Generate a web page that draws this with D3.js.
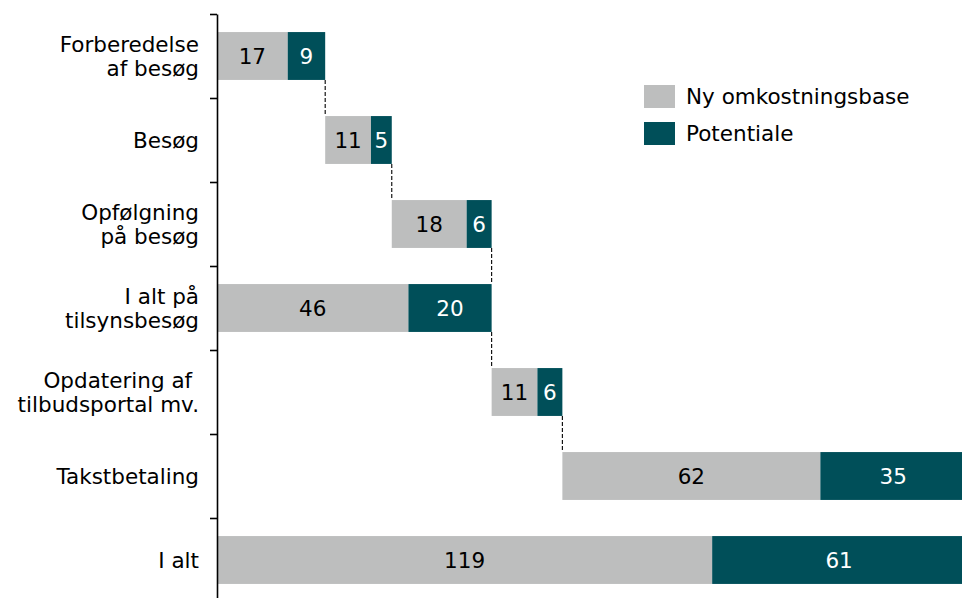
<!DOCTYPE html>
<html>
<head>
<meta charset="utf-8">
<script src="https://cdn.jsdelivr.net/npm/d3@7"></script>
<style>
  html, body { margin: 0; padding: 0; background: #fff; }
  svg { display: block; font-family: "DejaVu Sans", Verdana, sans-serif; }
  .cat { white-space: pre; }
</style>
</head>
<body>
<svg id="chart" width="962" height="598"></svg>
<script>
// Category labels (line breaks as drawn)
const categories = [
  ["Forberedelse", "af besøg"],
  ["Besøg"],
  ["Opfølgning", "på besøg"],
  ["I alt på", "tilsynsbesøg"],
  ["Opdatering af ", "tilbudsportal mv."],
  ["Takstbetaling"],
  ["I alt"]
];
// Series values
const baseValues = [17, 11, 18, 46, 11, 62, 119];      // Ny omkostningsbase
const potentialValues = [9, 5, 6, 20, 6, 35, 61];       // Potentiale
// Where each bar starts on the value axis (waterfall offsets)
const offsets = [0, 26, 42, 0, 66, 83, 0];
const seriesNames = ["Ny omkostningsbase", "Potentiale"];

const colors = { base: "#BDBEBE", potential: "#004F59" };
const fontSize = 21.5;

const svg = d3.select("#chart");
const axisX = 217;

const x = d3.scaleLinear().domain([0, 180]).range([axisX, 966]);
const keys = categories.map((d, i) => i);
const y = d3.scaleBand().domain(keys).range([14, 602])
  .paddingInner(0.43).paddingOuter(0.215);
const edge = d3.scaleLinear().domain([0, categories.length]).range([14, 602]);

// connector lines between consecutive bars
const ends = keys.map(i => offsets[i] + baseValues[i] + potentialValues[i]);
for (let i = 0; i < keys.length - 1; i++) {
  if (i === 5) continue;
  const xv = ends[i];
  svg.append("line")
    .attr("x1", x(xv)).attr("x2", x(xv))
    .attr("y1", y(i) + y.bandwidth()).attr("y2", y(i + 1))
    .attr("stroke", "#000").attr("stroke-width", 1.1)
    .attr("stroke-dasharray", "4,2");
}

// bars
const rows = svg.append("g").selectAll("g").data(keys).join("g");
rows.append("rect")
  .attr("x", i => x(offsets[i]))
  .attr("y", i => y(i))
  .attr("width", i => x(offsets[i] + baseValues[i]) - x(offsets[i]))
  .attr("height", y.bandwidth())
  .attr("fill", colors.base);
rows.append("rect")
  .attr("x", i => x(offsets[i] + baseValues[i]))
  .attr("y", i => y(i))
  .attr("width", i => x(offsets[i] + baseValues[i] + potentialValues[i]) - x(offsets[i] + baseValues[i]))
  .attr("height", y.bandwidth())
  .attr("fill", colors.potential);

// value labels
rows.append("text")
  .attr("x", i => x(offsets[i] + baseValues[i] / 2))
  .attr("y", i => y(i) + y.bandwidth() / 2)
  .attr("dy", "0.36em")
  .attr("text-anchor", "middle")
  .attr("font-size", fontSize)
  .attr("fill", "#000")
  .text(i => baseValues[i]);
rows.append("text")
  .attr("x", i => x(offsets[i] + baseValues[i] + potentialValues[i] / 2))
  .attr("y", i => y(i) + y.bandwidth() / 2)
  .attr("dy", "0.36em")
  .attr("text-anchor", "middle")
  .attr("font-size", fontSize)
  .attr("fill", "#fff")
  .text(i => potentialValues[i]);

// vertical axis with ticks at category boundaries
const axis = d3.axisLeft(edge)
  .tickValues(d3.range(categories.length + 1))
  .tickFormat("")
  .tickSizeInner(7)
  .tickSizeOuter(0);
const ag = svg.append("g").attr("transform", `translate(${axisX},0)`).call(axis);
ag.select(".domain").attr("stroke", "#000").attr("stroke-width", 1.6);
ag.selectAll(".tick line").attr("stroke", "#000").attr("stroke-width", 1.6);

// category labels
const lineH = 24.5;
svg.append("g").selectAll("text").data(keys).join("text")
  .attr("class", "cat")
  .attr("text-anchor", "end")
  .attr("font-size", fontSize)
  .attr("fill", "#000")
  .attr("transform", i => `translate(199,${y(i) + y.bandwidth() / 2})`)
  .each(function(i) {
    const lines = categories[i];
    const t = d3.select(this);
    lines.forEach((ln, k) => {
      t.append("tspan")
        .attr("x", 0)
        .attr("y", (k - (lines.length - 1) / 2) * lineH)
        .attr("dy", "0.36em")
        .text(ln);
    });
  });

// legend
const legend = svg.append("g").attr("transform", "translate(644,85)");
seriesNames.forEach((name, k) => {
  const g = legend.append("g").attr("transform", `translate(0,${k * 37})`);
  g.append("rect").attr("width", 31).attr("height", 23)
    .attr("fill", k === 0 ? colors.base : colors.potential);
  g.append("text").attr("x", 42).attr("y", 11.5).attr("dy", "0.36em")
    .attr("font-size", fontSize).attr("fill", "#000").text(name);
});
</script>
</body>
</html>
